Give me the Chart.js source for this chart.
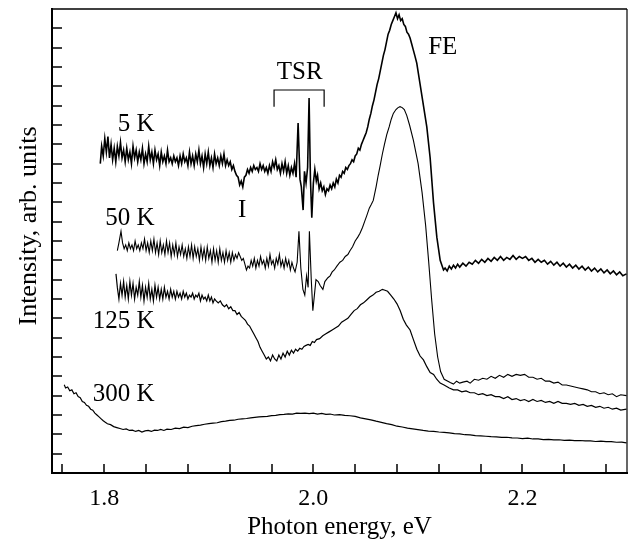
<!DOCTYPE html>
<html>
<head>
<meta charset="utf-8">
<script src="https://cdn.jsdelivr.net/npm/chart.js@4.4.1/dist/chart.umd.min.js"></script>
<style>
  html, body { margin: 0; padding: 0; background: #fff; }
</style>
</head>
<body>
<canvas id="spectra" width="629" height="543"></canvas>
<script>
// photon energy (eV), intensity (arb. units, offset per temperature)
const k5 = [
  [1.7962,16.0],[1.7975,16.9],[1.799,16.4],[1.8005,17.3],[1.802,16.6],[1.8035,17.4],[1.805,16.3],[1.8065,17.0],
  [1.808,16.2],[1.8095,16.8],[1.811,16.1],[1.8125,16.9],[1.814,16.4],[1.8155,17.1],[1.817,16.3],[1.8185,16.7],
  [1.82,16.1],[1.8215,16.8],[1.823,16.2],[1.8245,16.6],[1.826,16.0],[1.8275,16.9],[1.829,16.3],[1.8305,16.7],
  [1.832,16.1],[1.8335,16.6],[1.835,16.2],[1.8365,16.8],[1.838,16.0],[1.8395,16.5],[1.841,16.1],[1.8425,16.9],
  [1.844,16.2],[1.8455,16.6],[1.847,16.0],[1.8485,16.7],[1.85,16.2],[1.8515,16.5],[1.853,15.9],[1.8545,16.6],
  [1.856,16.1],[1.8575,16.4],[1.859,16.0],[1.8605,16.7],[1.862,16.1],[1.8635,16.3],[1.865,16.0],[1.8665,16.4],
  [1.868,16.1],[1.8695,16.3],[1.871,15.9],[1.8725,16.4],[1.874,16.0],[1.8755,16.5],[1.877,16.1],[1.8785,16.3],
  [1.88,15.9],[1.8815,16.6],[1.883,16.0],[1.8845,16.4],[1.886,15.9],[1.8875,16.5],[1.889,16.1],[1.8905,16.7],
  [1.892,16.0],[1.8935,16.4],[1.895,15.8],[1.8965,16.5],[1.898,16.0],[1.8995,16.6],[1.901,15.9],[1.9025,16.3],
  [1.904,15.8],[1.9055,16.5],[1.907,16.0],[1.9085,16.3],[1.91,15.9],[1.9115,16.4],[1.913,16.0],[1.9145,16.5],
  [1.916,15.9],[1.9175,16.2],[1.919,15.9],[1.9205,16.1],[1.922,15.7],[1.9235,15.9],[1.925,15.6],[1.9265,15.4],
  [1.928,15.3],[1.9295,14.9],[1.931,15.1],[1.9325,14.8],[1.934,15.3],[1.9355,15.4],[1.937,15.7],[1.9385,15.5],
  [1.94,15.8],[1.9415,15.6],[1.943,15.9],[1.9445,15.7],[1.946,15.8],[1.9475,15.6],[1.949,16.0],[1.9505,15.7],
  [1.952,15.9],[1.9535,15.6],[1.955,15.8],[1.9565,15.5],[1.958,15.9],[1.9595,15.6],[1.961,16.1],[1.9625,15.8],
  [1.964,16.2],[1.9655,15.7],[1.967,15.9],[1.9685,15.5],[1.97,16.0],[1.9715,15.6],[1.973,16.1],[1.9745,15.5],
  [1.976,15.9],[1.9775,15.4],[1.979,15.8],[1.9805,15.5],[1.982,16.0],[1.9835,15.3],[1.9854,18.1],[1.9872,15.2],
  [1.9885,14.8],[1.9902,13.6],[1.9915,15.6],[1.993,15.0],[1.9945,15.8],[1.9959,19.4],[1.9972,15.2],[1.9985,13.2],
  [2.0,15.0],[2.0014,15.7],[2.0028,15.1],[2.004,15.4],[2.0055,14.7],[2.007,15.0],[2.0085,14.6],[2.01,14.8],
  [2.0115,14.4],[2.013,14.7],[2.0145,14.6],[2.016,14.9],[2.0175,14.7],[2.019,15.0],[2.0205,14.8],[2.022,15.2],
  [2.0235,15.0],[2.025,15.4],[2.0265,15.3],[2.028,15.6],[2.0295,15.5],[2.031,15.8],[2.0325,15.7],[2.034,15.9],
  [2.0355,16.0],[2.037,16.2],[2.0385,16.1],[2.04,16.4],[2.0415,16.5],[2.043,16.8],[2.0445,16.7],[2.046,17.0],
  [2.0475,17.2],[2.049,17.4],[2.0505,17.6],[2.052,17.9],[2.0535,18.3],[2.055,18.6],[2.0565,19.0],[2.058,19.3],
  [2.0595,19.7],[2.061,20.1],[2.0625,20.4],[2.064,20.8],[2.0655,21.2],[2.067,21.6],[2.0685,21.9],[2.07,22.3],
  [2.0715,22.7],[2.073,22.9],[2.0745,23.2],[2.076,23.4],[2.0775,23.6],[2.079,23.8],[2.0805,23.5],[2.082,23.7],
  [2.0835,23.4],[2.085,23.5],[2.0865,23.2],[2.088,23.1],[2.0895,22.8],[2.091,22.7],[2.0925,22.5],[2.094,22.2],
  [2.0955,21.9],[2.097,21.6],[2.0989,21.2],[2.1021,20.1],[2.1053,19.0],[2.1085,17.9],[2.1117,16.3],[2.1149,14.0],
  [2.1181,12.2],[2.1213,11.0],[2.1245,10.5],[2.126,10.6],[2.128,10.45],[2.13,10.7],[2.132,10.55],[2.134,10.75],
  [2.136,10.6],[2.138,10.8],[2.14,10.65],[2.143,10.85],[2.146,10.7],[2.149,10.9],[2.152,10.8],[2.155,11.0],
  [2.158,10.85],[2.161,11.05],[2.164,10.9],[2.167,11.1],[2.17,10.95],[2.173,11.15],[2.176,11.0],[2.179,11.2],
  [2.182,11.0],[2.185,11.15],[2.188,11.05],[2.191,11.25],[2.194,11.05],[2.197,11.2],[2.2,11.1],[2.203,11.2],
  [2.206,11.0],[2.209,11.1],[2.212,10.9],[2.215,11.05],[2.218,10.9],[2.221,11.0],[2.224,10.8],[2.227,10.95],
  [2.23,10.75],[2.233,10.9],[2.236,10.7],[2.239,10.85],[2.242,10.65],[2.245,10.8],[2.248,10.6],[2.251,10.75],
  [2.254,10.55],[2.257,10.7],[2.26,10.5],[2.263,10.65],[2.266,10.45],[2.269,10.6],[2.272,10.4],[2.275,10.55],
  [2.278,10.35],[2.281,10.5],[2.284,10.3],[2.287,10.45],[2.29,10.25],[2.293,10.4],[2.296,10.2],[2.2995,10.3]
];

const k50 = [
  [1.8125,11.5],[1.814,11.9],[1.816,12.5],[1.8175,11.9],[1.819,11.6],[1.8205,11.8],[1.822,11.5],[1.8235,11.9],
  [1.825,11.6],[1.8265,11.8],[1.828,11.5],[1.8295,12.0],[1.831,11.6],[1.8325,11.8],[1.834,11.5],[1.8355,11.9],
  [1.837,11.6],[1.8385,12.1],[1.84,11.5],[1.8415,11.9],[1.843,11.4],[1.8445,12.0],[1.846,11.5],[1.8475,12.1],
  [1.849,11.4],[1.8505,11.9],[1.852,11.3],[1.8535,12.0],[1.855,11.4],[1.8565,11.8],[1.858,11.3],[1.8595,12.0],
  [1.861,11.4],[1.8625,11.9],[1.864,11.2],[1.8655,11.8],[1.867,11.3],[1.8685,11.9],[1.87,11.2],[1.8715,11.7],
  [1.873,11.3],[1.8745,11.8],[1.876,11.2],[1.8775,11.6],[1.879,11.1],[1.8805,11.7],[1.882,11.2],[1.8835,11.8],
  [1.885,11.1],[1.8865,11.7],[1.888,11.2],[1.8895,11.6],[1.891,11.0],[1.8925,11.7],[1.894,11.1],[1.8955,11.6],
  [1.897,11.0],[1.8985,11.7],[1.9,11.1],[1.9015,11.5],[1.903,10.9],[1.9045,11.6],[1.906,11.0],[1.9075,11.5],
  [1.909,10.9],[1.9105,11.6],[1.912,11.0],[1.9135,11.4],[1.915,10.9],[1.9165,11.5],[1.918,11.0],[1.9195,11.4],
  [1.921,10.9],[1.9225,11.4],[1.924,11.0],[1.9255,11.3],[1.927,11.1],[1.9285,11.4],[1.93,11.2],[1.9315,11.0],
  [1.933,11.1],[1.9345,10.8],[1.936,10.5],[1.9375,10.7],[1.939,10.6],[1.9405,11.0],[1.942,10.7],[1.9435,11.1],
  [1.945,10.6],[1.9465,11.0],[1.948,10.7],[1.9495,11.2],[1.951,10.8],[1.9525,11.0],[1.954,10.6],[1.9555,11.1],
  [1.957,10.7],[1.9585,11.3],[1.96,10.8],[1.9615,11.0],[1.963,10.6],[1.9645,11.1],[1.966,10.8],[1.9675,11.3],
  [1.969,10.7],[1.9705,11.0],[1.972,10.6],[1.9735,11.1],[1.975,10.7],[1.9765,11.0],[1.978,10.5],[1.9795,10.9],
  [1.981,10.6],[1.9825,10.4],[1.9845,10.9],[1.9862,12.5],[1.988,10.6],[1.99,9.5],[1.9918,9.2],[1.9935,10.2],
  [1.995,9.6],[1.9962,12.5],[1.998,10.0],[1.9995,8.4],[2.001,9.2],[2.0025,10.0],[2.0046,9.9],[2.0065,9.7],
  [2.0091,9.5],[2.011,9.9],[2.0139,10.1],[2.016,10.2],[2.018,10.4],[2.02,10.5],[2.0225,10.7],[2.0254,10.9],
  [2.028,11.0],[2.0305,11.2],[2.033,11.3],[2.035,11.5],[2.0375,11.7],[2.04,12.0],[2.0425,12.2],[2.0446,12.4],
  [2.047,12.7],[2.049,13.0],[2.051,13.3],[2.0535,13.7],[2.0555,13.9],[2.0573,14.1],[2.06,14.8],[2.062,15.4],
  [2.0637,15.85],[2.066,16.5],[2.068,17.0],[2.0702,17.5],[2.0725,17.9],[2.0745,18.3],[2.0765,18.6],[2.079,18.8],
  [2.081,18.9],[2.0829,18.95],[2.085,18.9],[2.087,18.8],[2.0893,18.5],[2.092,18.0],[2.0957,17.2],[2.1002,16.0],
  [2.104,14.5],[2.1074,12.8],[2.1102,11.0],[2.1131,9.0],[2.116,7.2],[2.1189,6.0],[2.1217,5.25],[2.1251,4.85],
  [2.1309,4.68],[2.134,4.6],[2.137,4.75],[2.14,4.65],[2.143,4.7],[2.147,4.75],[2.15,4.65],[2.154,4.85],
  [2.158,4.8],[2.162,4.9],[2.166,4.85],[2.17,5.0],[2.174,4.9],[2.178,5.05],[2.182,4.95],[2.186,5.1],
  [2.19,5.0],[2.194,5.1],[2.198,5.05],[2.202,5.1],[2.206,4.95],[2.21,4.95],[2.214,4.85],[2.218,4.9],
  [2.222,4.75],[2.226,4.75],[2.23,4.65],[2.234,4.7],[2.238,4.55],[2.242,4.55],[2.246,4.5],[2.25,4.45],
  [2.254,4.4],[2.258,4.35],[2.262,4.3],[2.266,4.2],[2.27,4.2],[2.274,4.1],[2.278,4.15],[2.282,4.05],
  [2.286,4.1],[2.29,3.95],[2.294,4.05],[2.2995,4.0]
];

const k125 = [
  [1.8112,10.3],[1.8125,9.6],[1.814,9.0],[1.8155,9.8],[1.817,9.2],[1.8185,9.9],[1.82,9.1],[1.8215,9.7],
  [1.823,9.0],[1.8245,9.9],[1.826,9.2],[1.8275,9.8],[1.829,9.0],[1.8305,9.6],[1.832,9.2],[1.8335,9.9],
  [1.835,9.1],[1.8365,9.7],[1.838,8.9],[1.8395,9.6],[1.841,9.1],[1.8425,9.8],[1.844,9.0],[1.8455,9.5],
  [1.847,8.9],[1.8485,9.7],[1.85,9.1],[1.8515,9.6],[1.853,9.0],[1.8545,9.5],[1.856,9.0],[1.8575,9.6],
  [1.859,9.1],[1.8605,9.4],[1.862,9.0],[1.8635,9.5],[1.865,9.1],[1.8665,9.4],[1.868,9.0],[1.8695,9.4],
  [1.871,9.1],[1.8725,9.3],[1.874,9.0],[1.8755,9.4],[1.877,9.1],[1.8785,9.3],[1.88,9.0],[1.8815,9.2],
  [1.883,9.1],[1.8845,9.3],[1.886,9.0],[1.8875,9.2],[1.889,9.1],[1.8905,9.3],[1.892,8.9],[1.8935,9.2],
  [1.895,9.0],[1.8965,9.1],[1.898,8.9],[1.8995,9.2],[1.901,8.9],[1.9025,9.1],[1.904,8.8],[1.9055,9.0],
  [1.907,8.9],[1.909,8.8],[1.911,8.9],[1.913,8.7],[1.915,8.6],[1.917,8.7],[1.919,8.5],[1.921,8.6],
  [1.923,8.4],[1.925,8.4],[1.927,8.2],[1.929,8.3],[1.931,8.1],[1.933,8.0],[1.935,7.9],[1.937,7.7],
  [1.939,7.6],[1.941,7.4],[1.943,7.2],[1.945,7.0],[1.947,6.8],[1.949,6.5],[1.951,6.3],[1.953,6.1],
  [1.955,5.9],[1.957,6.0],[1.959,5.8],[1.961,6.1],[1.963,5.9],[1.965,5.8],[1.967,6.1],[1.969,5.9],
  [1.971,6.2],[1.973,6.0],[1.975,6.3],[1.977,6.1],[1.979,6.35],[1.981,6.2],[1.983,6.4],[1.985,6.3],
  [1.987,6.45],[1.989,6.4],[1.991,6.55],[1.993,6.6],[1.995,6.65],[1.997,6.6],[1.999,6.8],[2.001,6.75],
  [2.003,6.9],[2.006,6.95],[2.009,7.1],[2.012,7.2],[2.015,7.3],[2.018,7.4],[2.021,7.5],[2.024,7.6],
  [2.027,7.8],[2.03,7.9],[2.033,8.0],[2.036,8.2],[2.039,8.4],[2.042,8.5],[2.045,8.7],[2.048,8.8],
  [2.051,8.95],[2.054,9.1],[2.057,9.2],[2.06,9.35],[2.063,9.4],[2.066,9.5],[2.0685,9.45],[2.071,9.4],
  [2.074,9.2],[2.077,9.0],[2.08,8.75],[2.083,8.4],[2.086,7.95],[2.089,7.65],[2.0925,7.4],[2.0957,6.9],
  [2.099,6.4],[2.1021,6.05],[2.1053,5.85],[2.1085,5.5],[2.1117,5.2],[2.115,5.1],[2.118,4.85],[2.1213,4.65],
  [2.125,4.55],[2.13,4.4],[2.134,4.3],[2.138,4.3],[2.142,4.2],[2.146,4.25],[2.15,4.15],[2.154,4.15],
  [2.158,4.05],[2.162,4.1],[2.166,4.0],[2.17,4.05],[2.174,3.95],[2.178,3.95],[2.182,3.85],[2.186,3.95],
  [2.19,3.8],[2.194,3.85],[2.198,3.75],[2.202,3.8],[2.206,3.7],[2.21,3.8],[2.214,3.7],[2.218,3.75],
  [2.222,3.65],[2.226,3.7],[2.23,3.6],[2.234,3.7],[2.238,3.6],[2.242,3.6],[2.246,3.55],[2.25,3.6],
  [2.254,3.5],[2.258,3.55],[2.262,3.45],[2.266,3.5],[2.27,3.4],[2.274,3.45],[2.278,3.35],[2.282,3.4],
  [2.286,3.3],[2.29,3.35],[2.294,3.25],[2.2995,3.3]
];

const k300 = [
  [1.7617,4.56],[1.763,4.4],[1.765,4.45],[1.767,4.25],[1.769,4.3],[1.771,4.1],[1.773,4.15],[1.775,3.95],
  [1.777,3.9],[1.779,3.7],[1.781,3.65],[1.783,3.5],[1.785,3.45],[1.787,3.3],[1.789,3.25],[1.791,3.1],
  [1.793,3.0],[1.795,2.9],[1.797,2.8],[1.799,2.7],[1.801,2.62],[1.803,2.55],[1.806,2.5],[1.809,2.4],
  [1.812,2.35],[1.815,2.3],[1.818,2.25],[1.821,2.28],[1.824,2.2],[1.827,2.22],[1.83,2.15],[1.833,2.2],
  [1.836,2.12],[1.839,2.18],[1.842,2.2],[1.845,2.15],[1.848,2.22],[1.851,2.2],[1.854,2.25],[1.857,2.2],
  [1.86,2.27],[1.864,2.25],[1.868,2.32],[1.872,2.3],[1.876,2.37],[1.88,2.35],[1.884,2.42],[1.888,2.45],
  [1.892,2.48],[1.896,2.52],[1.9,2.55],[1.904,2.58],[1.908,2.6],[1.912,2.66],[1.916,2.68],[1.92,2.72],
  [1.924,2.73],[1.928,2.78],[1.932,2.8],[1.936,2.82],[1.94,2.85],[1.944,2.88],[1.948,2.9],[1.952,2.92],
  [1.956,2.93],[1.96,2.97],[1.964,2.98],[1.968,3.02],[1.972,3.03],[1.976,3.06],[1.98,3.05],[1.984,3.1],
  [1.988,3.08],[1.992,3.1],[1.996,3.07],[2.0,3.1],[2.004,3.05],[2.008,3.08],[2.012,3.03],[2.016,3.05],
  [2.02,3.0],[2.025,3.02],[2.03,2.98],[2.035,2.96],[2.04,2.93],[2.045,2.85],[2.05,2.8],[2.055,2.75],
  [2.06,2.68],[2.065,2.62],[2.07,2.55],[2.075,2.5],[2.08,2.42],[2.085,2.38],[2.09,2.32],[2.095,2.28],
  [2.1,2.24],[2.105,2.2],[2.11,2.17],[2.115,2.15],[2.12,2.12],[2.125,2.1],[2.13,2.08],[2.135,2.04],
  [2.14,2.02],[2.145,1.98],[2.15,1.97],[2.155,1.93],[2.16,1.92],[2.165,1.9],[2.17,1.88],[2.175,1.87],
  [2.18,1.84],[2.185,1.85],[2.19,1.82],[2.195,1.81],[2.2,1.78],[2.205,1.8],[2.21,1.76],[2.215,1.76],
  [2.22,1.73],[2.225,1.74],[2.23,1.71],[2.235,1.72],[2.24,1.69],[2.245,1.7],[2.25,1.67],[2.255,1.68],
  [2.26,1.66],[2.265,1.66],[2.27,1.63],[2.275,1.65],[2.28,1.62],[2.285,1.62],[2.29,1.59],[2.295,1.6],
  [2.2995,1.56]
];

const energyTicks = [1.76, 1.80, 1.84, 1.88, 1.92, 1.96, 2.00, 2.04, 2.08, 2.12, 2.16, 2.20, 2.24, 2.28];
const labelledTicks = [1.8, 2.0, 2.2];
const intensityTicks = [1, 2, 3, 4, 5, 6, 7, 8, 9, 10, 11, 12, 13, 14, 15, 16, 17, 18, 19, 20, 21, 22, 23];

// text labels placed in data coordinates
const notes = [
  { text: '5 K',   x: 1.848, y: 18.03, align: 'right' },
  { text: '50 K',  x: 1.848, y: 13.19, align: 'right' },
  { text: '125 K', x: 1.848, y: 7.84,  align: 'right' },
  { text: '300 K', x: 1.848, y: 4.05,  align: 'right' },
  { text: 'TSR',   x: 1.987, y: 20.74, align: 'center' },
  { text: 'I',     x: 1.9319, y: 13.57, align: 'center' },
  { text: 'FE',    x: 2.1098, y: 22.03, align: 'left' }
];
const bracket = { from: 1.9624, to: 2.0103, top: 19.81, foot: 18.95 };

const toPts = arr => arr.map(p => ({ x: p[0], y: p[1] }));

const extras = {
  id: 'extras',
  afterDraw(chart) {
    const { ctx, chartArea: { left, right, top, bottom }, scales: { x, y } } = chart;
    ctx.save();
    ctx.strokeStyle = '#000';
    ctx.fillStyle = '#000';

    // inward tick marks
    ctx.lineWidth = 1.5;
    ctx.beginPath();
    energyTicks.forEach(v => {
      const px = Math.round(x.getPixelForValue(v));
      ctx.moveTo(px, bottom);
      ctx.lineTo(px, bottom - 9);
    });
    intensityTicks.forEach(v => {
      const py = Math.round(y.getPixelForValue(v));
      ctx.moveTo(left, py);
      ctx.lineTo(left + 10, py);
    });
    ctx.stroke();

    // top and right frame
    ctx.lineWidth = 1.5;
    ctx.beginPath();
    ctx.moveTo(left, top);
    ctx.lineTo(right, top);
    ctx.stroke();
    ctx.lineWidth = 1.2;
    ctx.beginPath();
    ctx.moveTo(right, top);
    ctx.lineTo(right, bottom);
    ctx.stroke();

    // TSR bracket
    ctx.lineWidth = 1.2;
    ctx.beginPath();
    ctx.moveTo(x.getPixelForValue(bracket.from), y.getPixelForValue(bracket.foot));
    ctx.lineTo(x.getPixelForValue(bracket.from), y.getPixelForValue(bracket.top));
    ctx.lineTo(x.getPixelForValue(bracket.to), y.getPixelForValue(bracket.top));
    ctx.lineTo(x.getPixelForValue(bracket.to), y.getPixelForValue(bracket.foot));
    ctx.stroke();

    // annotations
    ctx.font = '25px "Liberation Serif"';
    ctx.textBaseline = 'middle';
    notes.forEach(n => {
      ctx.textAlign = n.align;
      ctx.fillText(n.text, x.getPixelForValue(n.x), y.getPixelForValue(n.y));
    });

    // y axis title
    ctx.translate(29, 226);
    ctx.rotate(-Math.PI / 2);
    ctx.textAlign = 'center';
    ctx.font = '26px "Liberation Serif"';
    ctx.fillText('Intensity, arb. units', 0, 0);

    ctx.restore();
  }
};

const line = (data, width) => ({
  data: toPts(data),
  showLine: true,
  borderColor: '#000',
  borderWidth: width,
  pointRadius: 0,
  tension: 0,
  fill: false
});

new Chart(document.getElementById('spectra'), {
  type: 'scatter',
  data: {
    datasets: [
      line(k5, 1.6),
      line(k50, 1.1),
      line(k125, 1.2),
      line(k300, 1.2)
    ]
  },
  options: {
    responsive: false,
    animation: false,
    layout: { padding: { top: 9, right: 2, left: 0, bottom: 0 } },
    plugins: {
      legend: { display: false },
      tooltip: { enabled: false }
    },
    scales: {
      x: {
        type: 'linear',
        min: 1.75,
        max: 2.3,
        afterBuildTicks: s => { s.ticks = energyTicks.map(v => ({ value: v })); },
        afterFit: s => { s.height = 70; },
        grid: { display: false, drawTicks: false },
        border: { display: true, color: '#000', width: 2 },
        ticks: {
          autoSkip: false,
          maxRotation: 0,
          padding: 11,
          color: '#000',
          font: { family: '"Liberation Serif"', size: 24 },
          callback: v => labelledTicks.some(l => Math.abs(l - v) < 1e-6) ? v.toFixed(1) : ''
        },
        title: {
          display: true,
          text: 'Photon energy, eV',
          color: '#000',
          font: { family: '"Liberation Serif"', size: 25 },
          padding: { top: 0, bottom: 1 }
        }
      },
      y: {
        type: 'linear',
        min: 0,
        max: 24,
        afterFit: s => { s.width = 52; },
        grid: { display: false, drawTicks: false },
        border: { display: true, color: '#000', width: 2 },
        ticks: { display: false, stepSize: 1 }
      }
    }
  },
  plugins: [extras]
});
</script>
</body>
</html>
